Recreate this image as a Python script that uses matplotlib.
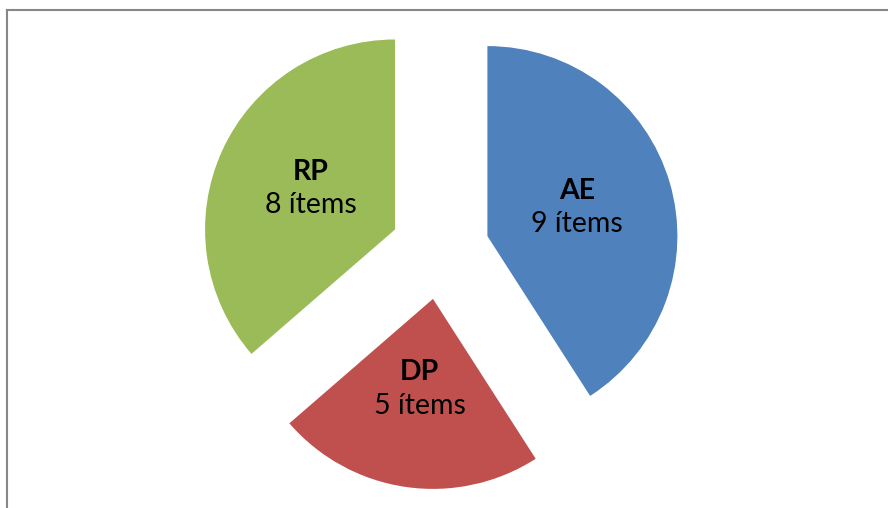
import matplotlib
matplotlib.use("Agg")
import matplotlib.pyplot as plt
import numpy as np

names = ["AE", "DP", "RP"]
counts = [9, 5, 8]
colours = ["#4F81BD", "#C0504D", "#9BBB59"]

fig = plt.figure(figsize=(8.88, 5.08), dpi=100)
ax = fig.add_axes([0, 0, 1, 1])

wedges, _ = ax.pie(counts, colors=colours, startangle=90, counterclock=False,
                   explode=[0.26] * len(counts), radius=1.0,
                   wedgeprops=dict(linewidth=0))

# put the pie centre where the original one is (440, 250 px), 1 unit = 190 px
ax.set_xlim(-440 / 190, 448 / 190)
ax.set_ylim(-258 / 190, 250 / 190)
ax.set_aspect("auto")
ax.axis("off")

for w, name, n in zip(wedges, names, counts):
    ang = np.deg2rad((w.theta1 + w.theta2) / 2)
    cx, cy = w.center
    x = cx + 0.49 * np.cos(ang)
    y = cy + 0.49 * np.sin(ang) + 0.01
    ax.text(x, y + 0.088, name, ha="center", va="center", fontsize=20.5,
            fontweight="bold", family="Lato")
    ax.text(x, y - 0.087, f"{n} ítems", ha="center", va="center", fontsize=20.5,
            family="Lato")

# chart frame (cut off at right and bottom)
fig.add_artist(plt.Line2D([7 / 888, 1], [1 - 10 / 508, 1 - 10 / 508],
                          transform=fig.transFigure, color="#878787", lw=1.5))
fig.add_artist(plt.Line2D([7 / 888, 7 / 888], [0, 1 - 10 / 508],
                          transform=fig.transFigure, color="#878787", lw=1.5))

fig.savefig("out.png", dpi=100)
